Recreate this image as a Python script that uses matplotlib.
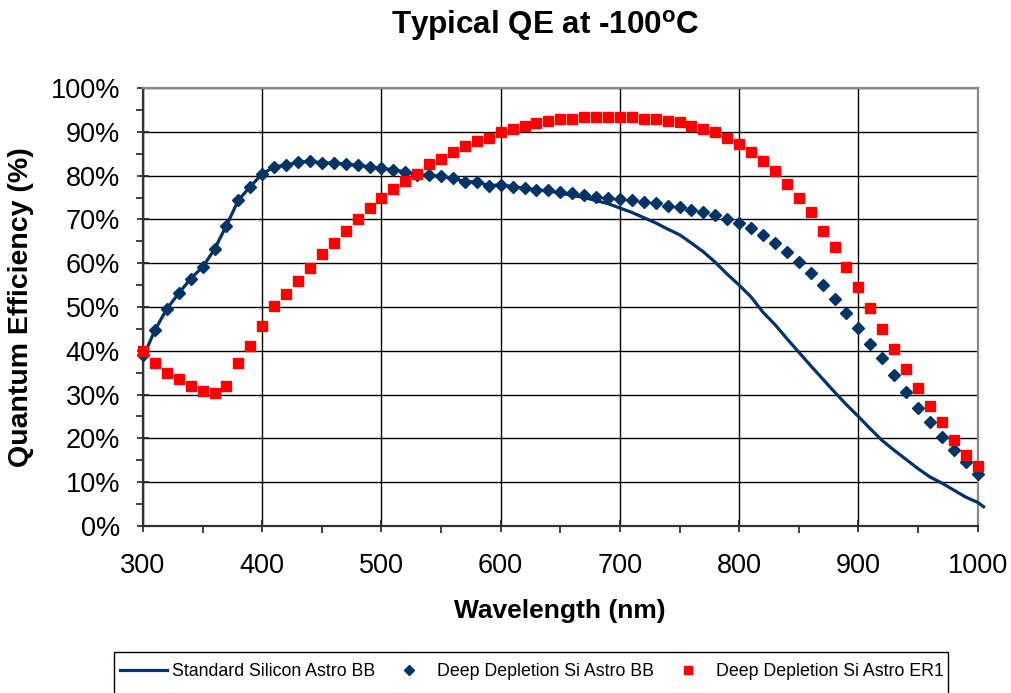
import numpy as np
import matplotlib.pyplot as plt
from matplotlib.patches import Rectangle
from matplotlib.ticker import MultipleLocator, FuncFormatter

plt.rcParams['font.family'] = ['Liberation Sans', 'DejaVu Sans']
plt.rcParams['mathtext.fontset'] = 'custom'
plt.rcParams['mathtext.rm'] = 'Liberation Sans'
plt.rcParams['mathtext.bf'] = 'Liberation Sans:bold'

wavelength = np.arange(300, 1001, 10)

# Deep Depletion Si Astro BB (diamonds)
dd_bb = [39.0, 44.7, 49.6, 53.1, 56.5, 59.1, 63.2, 68.6, 74.4, 77.5,
         80.4, 82.0, 82.4, 83.0, 83.3, 82.9, 82.9, 82.6, 82.4, 82.0,
         81.7, 81.3, 80.9, 80.2, 80.1, 79.8, 79.4, 78.6, 78.6, 77.7,
         77.9, 77.5, 77.1, 76.7, 76.7, 76.3, 76.0, 75.6, 75.2, 74.8,
         74.6, 74.4, 74.0, 73.7, 73.1, 72.9, 72.1, 71.6, 71.0, 70.2,
         69.1, 68.0, 66.4, 64.5, 62.6, 60.2, 57.7, 55.0, 51.8, 48.6,
         45.1, 41.6, 38.3, 34.5, 30.5, 27.0, 23.8, 20.3, 17.4, 14.5,
         11.9]

# Deep Depletion Si Astro ER1 (squares)
dd_er1 = [40.0, 37.3, 35.0, 33.5, 32.0, 30.8, 30.4, 32.0, 37.3, 41.1,
          45.7, 50.2, 52.9, 55.9, 59.0, 62.1, 64.7, 67.4, 70.1, 72.7,
          75.0, 76.9, 78.8, 80.3, 82.6, 83.8, 85.3, 86.8, 88.0, 88.7,
          89.9, 90.6, 91.4, 91.9, 92.5, 92.9, 92.9, 93.3, 93.3, 93.3,
          93.3, 93.3, 92.9, 92.9, 92.5, 92.2, 91.4, 90.6, 89.9, 88.7,
          87.2, 85.3, 83.4, 81.1, 78.1, 75.0, 71.6, 67.4, 63.6, 59.1,
          54.5, 49.8, 45.0, 40.4, 35.8, 31.5, 27.5, 23.7, 19.7, 16.3,
          13.6]

# Standard Silicon Astro BB (line)
std_wl = list(range(300, 1001, 10)) + [1005]
std_bb = [38.5, 44.7, 49.6, 53.1, 56.5, 59.1, 63.2, 68.6, 74.4, 77.5,
          80.4, 82.0, 82.4, 83.0, 83.3, 82.9, 82.9, 82.6, 82.4, 82.0,
          81.7, 81.3, 80.9, 80.2, 80.1, 79.8, 79.4, 78.6, 78.6, 77.7,
          77.9, 77.5, 77.1, 76.7, 76.5, 76.0, 75.5, 75.0, 74.3, 73.6,
          72.6, 71.6, 70.4, 69.2, 67.8, 66.5, 64.6, 62.6, 60.2, 57.5,
          55.0, 52.3, 48.8, 46.0, 42.8, 39.7, 36.6, 33.6, 30.6, 27.7,
          25.0, 22.2, 19.5, 17.3, 15.2, 13.1, 11.2, 9.8, 8.2, 6.6,
          5.4, 4.4]

navy = '#003366'
red = '#ff0000'

fig = plt.figure(figsize=(10.12, 6.93), dpi=100)
ax = fig.add_axes([0.1413, 0.241, 0.8247, 0.632])

ax.plot(std_wl, std_bb, color=navy, lw=2.3, label='Standard Silicon Astro BB',
        clip_on=False, zorder=3)
ax.plot(wavelength, dd_bb, ls='none', marker='D', ms=6, color=navy,
        label='Deep Depletion Si Astro BB', clip_on=False, zorder=4)
ax.plot(wavelength, dd_er1, ls='none', marker='s', ms=7.5, color=red,
        label='Deep Depletion Si Astro ER1', clip_on=False, zorder=5)

ax.set_xlim(300, 1000)
ax.set_ylim(0, 100)
ax.xaxis.set_major_locator(MultipleLocator(100))
ax.xaxis.set_minor_locator(MultipleLocator(50))
ax.yaxis.set_major_locator(MultipleLocator(10))
ax.yaxis.set_minor_locator(MultipleLocator(5))
ax.yaxis.set_major_formatter(FuncFormatter(lambda v, p: '%d%%' % v))
ax.grid(True, which='major', color='black', lw=1.0)
ax.set_axisbelow(True)

ax.tick_params(which='major', direction='inout', length=9, width=1.2,
               labelsize=19.5, colors='#222222', labelcolor='black')
ax.tick_params(which='minor', direction='out', length=5, width=1.2,
               colors='#222222')
ax.tick_params(axis='y', pad=12)
ax.tick_params(axis='x', pad=15)

for s in ['left', 'bottom']:
    ax.spines[s].set_color('#333333')
    ax.spines[s].set_linewidth(1.6)
for s in ['top', 'right']:
    ax.spines[s].set_color('#888888')
    ax.spines[s].set_linewidth(1.6)

ax.set_xlabel('Wavelength (nm)', fontsize=19, fontweight='bold', labelpad=14)
ax.set_ylabel('Quantum Efficiency (%)', fontsize=20.5, fontweight='bold', labelpad=12)

fig.text(545 / 1012, 1 - 34 / 693, r'Typical QE at -100$^{\mathbf{o}}$C',
         fontsize=22.6, fontweight='bold', ha='center', va='baseline')

# legend box runs past the bottom edge of the picture
fig.patches.append(Rectangle((114 / 1012, -0.02), (948 - 114) / 1012,
                             0.02 + 1 - 652 / 693, transform=fig.transFigure,
                             facecolor='white', edgecolor='black', lw=1.0))
leg = fig.legend(loc='center left', bbox_to_anchor=(120 / 1012, 1 - 672 / 693),
                 ncol=3, fontsize=12.8, frameon=False,
                 handlelength=2.65, columnspacing=0.55, borderpad=0,
                 borderaxespad=0, handletextpad=0.28, markerscale=0.8)

fig.savefig('out.png', dpi=100)
